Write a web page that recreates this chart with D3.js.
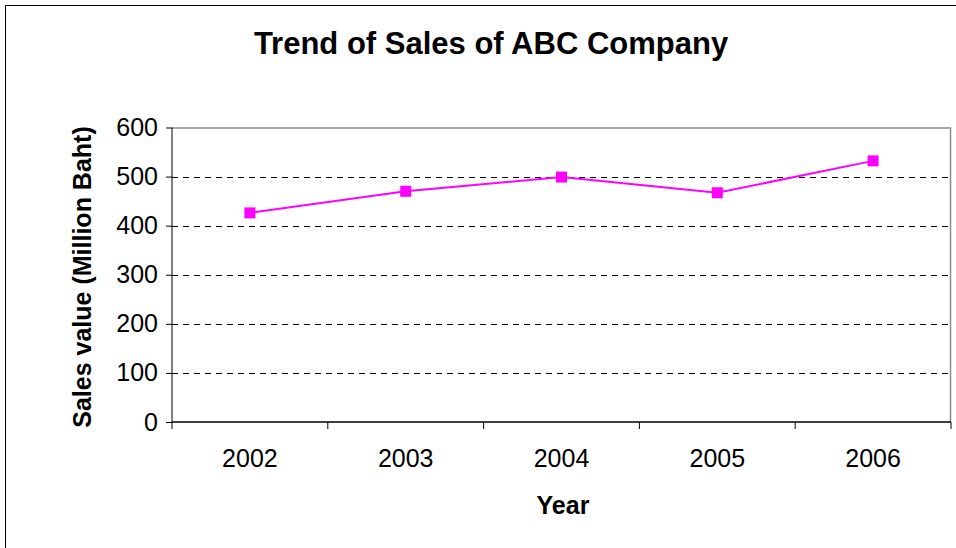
<!DOCTYPE html>
<html>
<head>
<meta charset="utf-8">
<script src="https://cdn.jsdelivr.net/npm/d3@7"></script>
<style>
  body { margin: 0; background: #fff; }
  text { font-family: "Liberation Sans", Arial, sans-serif; }
</style>
</head>
<body>
<div id="grafico"></div>
<script>
// datos del grafico
const years = ["2002", "2003", "2004", "2005", "2006"];
const sales = [426, 470, 499, 467, 532];
const yTicks = [0, 100, 200, 300, 400, 500, 600];

const ancho = 956;
const alto = 548;
const marginLeft = 172;
const marginRight = 5;
const marginTop = 127.5;
const marginBottom = 126;

const svg = d3.select("#grafico")
	.append("svg")
	.attr("width", ancho)
	.attr("height", alto);

// borde del area del grafico
svg.append("rect")
	.attr("x", 5.5).attr("y", 5.5)
	.attr("width", 1000).attr("height", 1000)
	.attr("fill", "none")
	.attr("stroke", "#000")
	.attr("stroke-width", 1);

const xScale = d3.scaleBand()
	.domain(years)
	.range([marginLeft, ancho - marginRight]);

const yScale = d3.scaleLinear()
	.domain([0, 600])
	.range([alto - marginBottom, marginTop]);

const x0 = marginLeft, x1 = ancho - marginRight;
const y0 = yScale(0), y1 = yScale(600);

// borde gris del plot
svg.append("path")
	.attr("d", `M${x0},${y1 + 0.5}H${x1 - 0.5}V${y0}`)
	.attr("fill", "none")
	.attr("stroke", "#8c8c8c")
	.attr("stroke-width", 1.5);

// lineas de grilla
svg.append("g")
	.selectAll("line")
	.data(yTicks.filter(d => d > 0 && d < 600))
	.enter()
	.append("line")
	.attr("x1", x0).attr("x2", x1 - 2)
	.attr("y1", d => Math.round(yScale(d)) + 0.5)
	.attr("y2", d => Math.round(yScale(d)) + 0.5)
	.attr("stroke", "#000")
	.attr("stroke-width", 1)
	.attr("stroke-dasharray", "6,5");

// ejes
const yAxis = d3.axisLeft(yScale).tickValues(yTicks).tickSize(6).tickPadding(8);
const gy = svg.append("g")
	.attr("transform", "translate(" + marginLeft + ",0)")
	.call(yAxis);
gy.select(".domain").attr("d", `M0,${y1}V${y0}`);
gy.selectAll("text")
	.style("font-size", "25px")
	.attr("fill", "#000");

const xAxis = d3.axisBottom(xScale).tickSize(0).tickPadding(27);
const gx = svg.append("g")
	.attr("transform", "translate(0," + y0 + ")")
	.call(xAxis);
gx.select(".domain").attr("d", `M${x0},0H${x1}`).attr("stroke-width", 1.5);
gx.selectAll("text")
	.style("font-size", "25px")
	.attr("fill", "#000");

// marcas entre categorias
svg.append("g")
	.selectAll("line")
	.data(years.concat(["fin"]))
	.enter()
	.append("line")
	.attr("x1", (d, i) => marginLeft + i * xScale.bandwidth())
	.attr("x2", (d, i) => marginLeft + i * xScale.bandwidth())
	.attr("y1", y0).attr("y2", y0 + 7)
	.attr("stroke", "#000");

// linea de ventas
const cx = d => xScale(d) + xScale.bandwidth() / 2;
const linea = d3.line()
	.x((d, i) => cx(years[i]))
	.y(d => yScale(d));

svg.append("path")
	.datum(sales)
	.attr("d", linea)
	.attr("fill", "none")
	.attr("stroke", "#ff00ff")
	.attr("stroke-width", 2);

svg.selectAll("rect.punto")
	.data(sales)
	.enter()
	.append("rect")
	.attr("class", "punto")
	.attr("x", (d, i) => cx(years[i]) - 5.5)
	.attr("y", d => yScale(d) - 5.5)
	.attr("width", 11)
	.attr("height", 11)
	.attr("fill", "#ff00ff");

// titulos
svg.append("text")
	.attr("x", 491).attr("y", 54)
	.attr("text-anchor", "middle")
	.style("font-size", "31px")
	.style("font-weight", "bold")
	.text("Trend of Sales of ABC Company");

svg.append("text")
	.attr("x", 563).attr("y", 514)
	.attr("text-anchor", "middle")
	.style("font-size", "25px")
	.style("font-weight", "bold")
	.text("Year");

svg.append("text")
	.attr("transform", "translate(91,277) rotate(-90)")
	.attr("text-anchor", "middle")
	.style("font-size", "25px")
	.style("font-weight", "bold")
	.text("Sales value (Million Baht)");
</script>
</body>
</html>
